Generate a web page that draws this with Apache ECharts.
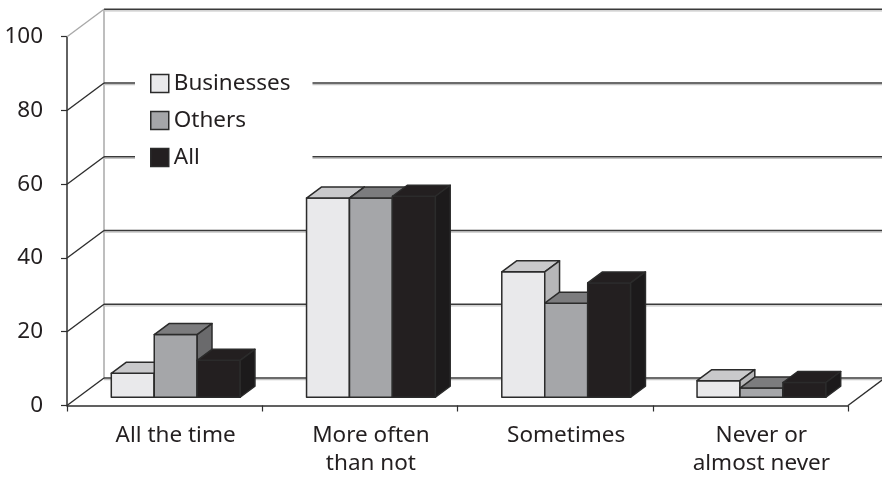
<!DOCTYPE html>
<html>
<head>
<meta charset="utf-8">
<script src="https://cdn.jsdelivr.net/npm/echarts@6/dist/echarts.min.js"></script>
<style>
  html, body { margin: 0; padding: 0; background: #fff; }
  #chart { width: 882px; height: 480px; }
</style>
</head>
<body>
<div id="chart"></div>
<script>
// Categories and values (percent)
const categories = ['All the time', 'More often\nthan not', 'Sometimes', 'Never or\nalmost never'];
const businesses = [6.5, 54, 34, 4.5];
const others = [17, 54, 25.5, 2.5];
const allGroup = [10, 54.5, 31, 4];
const yTicks = [0, 20, 40, 60, 80, 100];

// Oblique projection: depth vector of the whole box, bar placement in depth
const DX = 37, DY = -27.5;
const F0 = 0.3;       // bar front plane, as fraction of depth
const DEPTH = 0.4;    // bar depth, as fraction of depth
const BAR_FRAC = 0.22;
const INK = '#231f20';
const EDGE = '#2b2b2b';

const faces = [
  { front: '#e9e9eb', top: '#c9c9cb', side: '#b6b6b8' },
  { front: '#a5a6a9', top: '#7c7c7e', side: '#6a6a6c' },
  { front: '#231f20', top: '#231f20', side: '#1c1a1b' }
];

function barRenderer(s) {
  const f = faces[s];
  return function (params, api) {
    const i = api.value(0), v = api.value(1);
    const c = api.coord([i, v]);
    const base = api.coord([i, 0]);
    const band = api.size([1, 0])[0];
    const w = band * BAR_FRAC;
    const x0 = c[0] - 1.5 * w + s * w + F0 * DX;
    const x1 = x0 + w;
    const yt = c[1] + F0 * DY;
    const yb = base[1] + F0 * DY;
    const dx = DEPTH * DX, dy = DEPTH * DY;
    const st = { stroke: EDGE, lineWidth: 1.5, lineJoin: 'round' };
    return {
      type: 'group',
      children: [
        { type: 'polygon', shape: { points: [[x0, yt], [x1, yt], [x1, yb], [x0, yb]] },
          style: Object.assign({ fill: f.front }, st) },
        { type: 'polygon', shape: { points: [[x0, yt], [x0 + dx, yt + dy], [x1 + dx, yt + dy], [x1, yt]] },
          style: Object.assign({ fill: f.top }, st) },
        { type: 'polygon', shape: { points: [[x1, yt], [x1 + dx, yt + dy], [x1 + dx, yb + dy], [x1, yb]] },
          style: Object.assign({ fill: f.side }, st) }
      ]
    };
  };
}

// Back wall, side wall and floor of the box
function renderWalls(params, api) {
  const band = api.size([1, 0])[0];
  const L = api.coord([0, 0])[0] - band / 2;
  const R = api.coord([categories.length - 1, 0])[0] + band / 2;
  const children = [];
  const line = (x1, y1, x2, y2, color, width) => ({
    type: 'line', shape: { x1, y1, x2, y2 },
    style: { stroke: color, lineWidth: width }
  });
  const y0 = api.coord([0, 0])[1];
  const yTop = api.coord([0, yTicks[yTicks.length - 1]])[1];
  // back wall left edge
  children.push(line(L + DX, y0 + DY, L + DX, yTop + DY, '#a9a9a9', 1.5));
  yTicks.forEach((t, k) => {
    const y = api.coord([0, t])[1];
    // back wall gridline with its light under-stroke
    children.push(line(L + DX, y + DY + 1.6, R + DX + 40, y + DY + 1.6, '#c4c4c4', 1.2));
    children.push(line(L + DX, y + DY, R + DX + 40, y + DY, '#3a3a3a', 1.5));
    // side wall diagonal
    const top = k === yTicks.length - 1;
    children.push(line(L, y, L + DX, y + DY, top ? '#a9a9a9' : '#2e2e2e', 1.4));
  });
  // floor right edge
  children.push(line(R, y0, R + DX, y0 + DY, '#2e2e2e', 1.4));
  return { type: 'group', children };
}

const chart = echarts.init(document.getElementById('chart'), null, { renderer: 'canvas' });
const FONT = 'Noto Sans';

chart.setOption({
  animation: false,
  backgroundColor: '#ffffff',
  grid: { left: 67, right: 34, top: 36.7, bottom: 74.5, containLabel: false },
  legend: {
    orient: 'vertical',
    left: 135,
    top: 62,
    padding: [10, 22, 10, 15],
    backgroundColor: '#ffffff',
    itemWidth: 18,
    itemHeight: 18,
    itemGap: 14,
    itemTextGap: 14,
    icon: 'rect',
    selectedMode: false,
    textStyle: { fontFamily: FONT, fontSize: 22.5, color: INK, lineHeight: 22 },
    data: [
      { name: 'Businesses', itemStyle: { color: faces[0].front, borderColor: EDGE, borderWidth: 1.5 } },
      { name: 'Others', itemStyle: { color: faces[1].front, borderColor: EDGE, borderWidth: 1.5 } },
      { name: 'All', itemStyle: { color: faces[2].front, borderColor: EDGE, borderWidth: 1.5 } }
    ]
  },
  xAxis: {
    type: 'category',
    data: categories,
    boundaryGap: true,
    axisLine: { show: true, lineStyle: { color: '#2e2e2e', width: 1.5 } },
    axisTick: { show: true, length: 6, lineStyle: { color: '#2e2e2e', width: 1.2 } },
    axisLabel: {
      fontFamily: FONT, fontSize: 22.5, color: INK, lineHeight: 28,
      margin: 16, interval: 0, padding: [0, 0, 0, 22]
    },
    splitLine: { show: false }
  },
  yAxis: {
    type: 'value',
    min: 0, max: 100, interval: 20,
    axisLine: { show: true, lineStyle: { color: '#2e2e2e', width: 1.5 } },
    axisTick: { show: true, length: 6, lineStyle: { color: '#2e2e2e', width: 1.2 } },
    axisLabel: { fontFamily: FONT, fontSize: 22.5, color: INK, margin: 24 },
    splitLine: { show: false }
  },
  series: [
    { type: 'custom', name: 'walls', z: 1, silent: true, renderItem: renderWalls,
      data: [[0, 0]], encode: { x: 0, y: 1 } },
    { type: 'custom', name: 'Businesses', z: 2, renderItem: barRenderer(0),
      itemStyle: { color: faces[0].front },
      data: businesses.map((v, i) => [i, v]), encode: { x: 0, y: 1 } },
    { type: 'custom', name: 'Others', z: 2, renderItem: barRenderer(1),
      itemStyle: { color: faces[1].front },
      data: others.map((v, i) => [i, v]), encode: { x: 0, y: 1 } },
    { type: 'custom', name: 'All', z: 2, renderItem: barRenderer(2),
      itemStyle: { color: faces[2].front },
      data: allGroup.map((v, i) => [i, v]), encode: { x: 0, y: 1 } }
  ]
});
</script>
</body>
</html>
